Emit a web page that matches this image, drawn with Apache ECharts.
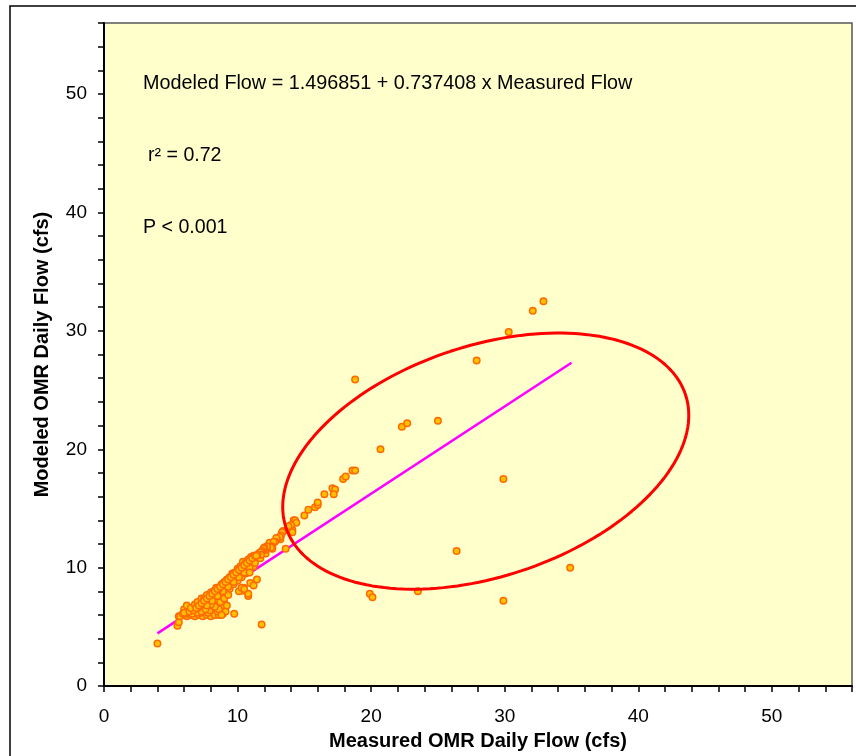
<!DOCTYPE html>
<html><head><meta charset="utf-8">
<script src="https://cdn.jsdelivr.net/npm/echarts@6/dist/echarts.min.js"></script>
<style>html,body{margin:0;padding:0;background:#fff}#chart{width:856px;height:756px}</style>
</head><body><div id="chart"></div>
<script>
// Measured vs modeled OMR daily flow (cfs)
const outliers = [
  [32.9,32.5],[32.1,31.7],[30.3,29.9],[27.9,27.5],[18.8,25.9],[22.3,21.9],[22.7,22.2],[25.0,22.4],
  [20.7,20.0],[29.9,17.5],[26.4,11.4],[34.9,10.0],[19.9,7.8],[20.1,7.5],[23.5,8.0],[29.9,7.2]
];
const midChain = [
  [18.6,18.2],[18.8,18.2],[17.9,17.5],[18.1,17.7],[17.1,16.7],[17.3,16.6],[17.2,16.2],[16.5,16.2],
  [15.8,15.1],[16.0,15.3],[16.0,15.5],[15.3,14.9],[15.0,14.4],[14.3,14.0],[14.4,13.8],[14.0,13.6],
  [13.8,13.5],[14.1,13.0],[13.6,11.6]
];
const upperCluster = [
  [14.2,14.0],[14.1,13.2],[13.7,13.2],[13.4,13.1],[13.3,12.9],[13.35,13.0],[13.25,12.7],[13.2,12.4],
  [13.15,12.6],[12.95,12.4],[12.9,12.5],[12.8,12.2],[12.7,12.2],[12.6,11.8],[12.6,11.6],[12.5,11.8],
  [12.5,11.7],[12.2,11.7],[12.2,11.8],[12.0,11.7],[11.95,11.6],[11.85,11.4],[11.8,11.3],[11.7,11.3],
  [11.75,11.1],[11.5,11.1],[11.4,11.0]
];
const lowerScatter = [
  [11.8,5.2],[9.75,6.1],[9.2,6.8],[8.8,6.0],[10.8,7.6],[10.4,8.05],[10.45,8.3],[10.95,8.7],
  [11.2,8.5],[11.45,9.0],[10.1,8.0],[10.9,9.6],[10.3,8.3],[10.8,7.8],[10.5,8.2],[4.0,3.6]
];
const bandUpper = [
  [6.2,6.8],[6.5,6.6],[6.8,6.9],[7.0,7.1],[7.3,7.4],[7.5,7.4],[7.7,7.7],[8.0,7.9],[8.2,8.0],
  [8.4,8.3],[8.6,8.2],[8.8,8.6],[9.0,8.8],[9.2,9.0],[9.4,9.2],[9.6,9.5],[9.8,9.6],[10.0,9.9],
  [10.2,10.1],[10.4,10.5],[10.6,10.4],[10.8,10.7],[11.0,10.9],[11.2,11.0]
];
const bandUpperInner = [
  [6.9,6.6],[7.1,6.8],[7.3,7.0],[7.5,7.2],[7.7,7.4],[7.9,7.6],[8.1,7.8],[8.3,8.0],[8.5,8.2],
  [8.7,8.4],[8.9,8.6],[9.1,8.8],[9.3,9.0],[9.5,9.2],[9.7,9.4],[9.9,9.6],[10.1,9.8],[10.3,10.0],
  [10.5,10.2],[10.7,10.4],[10.9,10.6],[11.1,10.8],[11.3,11.0],[11.6,11.2],[11.9,11.5],[12.1,11.5],
  [12.3,11.9],[12.4,12.1]
];
const bandMiddle = [
  [6.0,6.2],[6.4,6.3],[6.7,6.4],[7.0,6.6],[7.2,6.8],[7.4,6.9],[7.6,7.1],[7.8,7.3],[8.0,7.5],
  [8.2,7.6],[8.4,7.8],[8.6,8.0],[8.8,8.2],[9.0,8.4],[9.2,8.6],[9.4,8.8],[9.6,9.0],[9.8,9.2],
  [10.0,9.4],[10.2,9.6],[10.4,9.8],[10.6,10.0],[10.8,10.2],[11.0,10.4],[11.2,10.6],[11.4,10.8],[11.6,10.9]
];
const bandMiddleInner = [
  [7.7,6.8],[8.1,7.2],[8.5,7.6],[8.9,8.0],[9.3,8.4],[9.7,8.8],[10.1,9.2],[10.5,9.6],[10.9,10.0],
  [11.3,10.4],[11.7,10.8],[12.1,11.2]
];
const bandLower = [
  [7.0,6.2],[7.3,6.3],[7.6,6.5],[7.9,6.8],[8.2,7.1],[8.5,7.3],[8.8,7.6],[9.1,7.9],[9.4,8.2],
  [9.7,8.6],[10.0,8.9],[10.3,9.2],[10.6,9.5],[10.9,9.8],[11.2,10.1],
  [8.3,6.7],[8.7,7.1],[9.0,7.4],[9.3,7.7],[8.0,6.9]
];
const floorRows = [
  [5.6,5.9],[5.9,6.0],[6.2,5.9],[6.5,6.0],[6.8,5.9],[7.1,6.0],[7.4,5.9],[7.7,6.0],[8.0,5.9],
  [8.3,6.0],[8.6,6.0],[8.9,6.1],[9.1,6.3],
  [6.0,6.5],[6.3,6.4],[6.9,6.3],[7.5,6.4],[8.1,6.5],[8.4,6.6],[8.7,6.7],[8.5,6.3],[7.8,6.2],
  [9.0,7.0],[8.9,6.8],[6.6,6.1],[7.2,6.2],[7.9,6.4],[8.6,6.5],
  [5.5,5.1],[5.6,5.4],[5.7,5.9],[5.9,6.1],[6.1,6.1]
];
const observations = [].concat(floorRows, bandLower, bandMiddle, bandMiddleInner, bandUpper,
  bandUpperInner, lowerScatter, upperCluster, midChain, outliers);

const regressionX = [4, 35];
const regressionY = [4.45, 27.31];

const axisMin = 0, axisMax = 56, tickStep = 2, labelStep = 10;

// hand-drawn ellipse annotation (data units): centre and two conjugate semi-axes
const ellipseCenter = [28.58, 19.0];
const ellipseAxisU = [15.2, 3.87];
const ellipseAxisV = [0, 10.1];

const ellipsePts = [];
for (let i = 0; i <= 180; i++) {
  const t = 2 * Math.PI * i / 180;
  ellipsePts.push([
    ellipseCenter[0] + ellipseAxisU[0] * Math.cos(t) + ellipseAxisV[0] * Math.sin(t),
    ellipseCenter[1] + ellipseAxisU[1] * Math.cos(t) + ellipseAxisV[1] * Math.sin(t)
  ]);
}

const FONT = '"Liberation Sans", Arial, sans-serif';
const chart = echarts.init(document.getElementById('chart'), null, {renderer: 'canvas'});
const axisCommon = {
  type: 'value', min: axisMin, max: axisMax, interval: tickStep,
  splitLine: {show: false},
  axisLine: {show: true, onZero: false, lineStyle: {color: '#000', width: 2}},
  axisTick: {show: true, inside: false, length: 6, lineStyle: {color: '#000', width: 1.5}},
  axisLabel: {color: '#000', fontSize: 19, fontFamily: FONT,
    formatter: v => (v % labelStep === 0 && v < axisMax) ? String(v) : ''},
  nameLocation: 'middle',
  nameTextStyle: {color: '#000', fontSize: 20, fontWeight: 'bold', fontFamily: FONT}
};
chart.setOption({
  animation: false,
  backgroundColor: '#fff',
  grid: {left: 104, top: 23, right: 4, bottom: 65, show: true, backgroundColor: '#FFFFCC',
    borderColor: '#555', borderWidth: 1.5},
  xAxis: Object.assign({}, axisCommon, {name: 'Measured OMR Daily Flow (cfs)', nameGap: 43,
    axisLabel: Object.assign({}, axisCommon.axisLabel, {margin: 21})}),
  yAxis: Object.assign({}, axisCommon, {name: 'Modeled OMR Daily Flow (cfs)', nameGap: 52,
    axisLabel: Object.assign({}, axisCommon.axisLabel, {margin: 17})}),
  graphic: [
    {type: 'rect', x: 10, y: 6, shape: {x: 0, y: 0, width: 900, height: 800}, z: 50,
      style: {fill: 'none', stroke: '#000', lineWidth: 1.5}},
    {type: 'text', x: 143, y: 84, z: 100, style: {text: 'Modeled Flow = 1.496851 + 0.737408 x Measured Flow',
      font: '19.8px ' + FONT, fill: '#000', verticalAlign: 'middle'}},
    {type: 'text', x: 148, y: 156, z: 100, style: {text: 'r² = 0.72',
      font: '19.6px ' + FONT, fill: '#000', verticalAlign: 'middle'}},
    {type: 'text', x: 143, y: 228, z: 100, style: {text: 'P < 0.001',
      font: '19.6px ' + FONT, fill: '#000', verticalAlign: 'middle'}}
  ],
  series: [
    {type: 'line', data: regressionX.map((x, i) => [x, regressionY[i]]), symbol: 'none', z: 2,
      lineStyle: {color: '#FF00FF', width: 2.5}},
    {type: 'scatter', data: observations, symbol: 'circle', symbolSize: 6.5, z: 3,
      itemStyle: {color: '#FFC000', borderColor: '#FF6A00', borderWidth: 1.5, opacity: 1}},
    {type: 'line', data: ellipsePts, symbol: 'none', smooth: false, z: 4,
      lineStyle: {color: '#FF0000', width: 3}}
  ]
});
</script></body></html>
